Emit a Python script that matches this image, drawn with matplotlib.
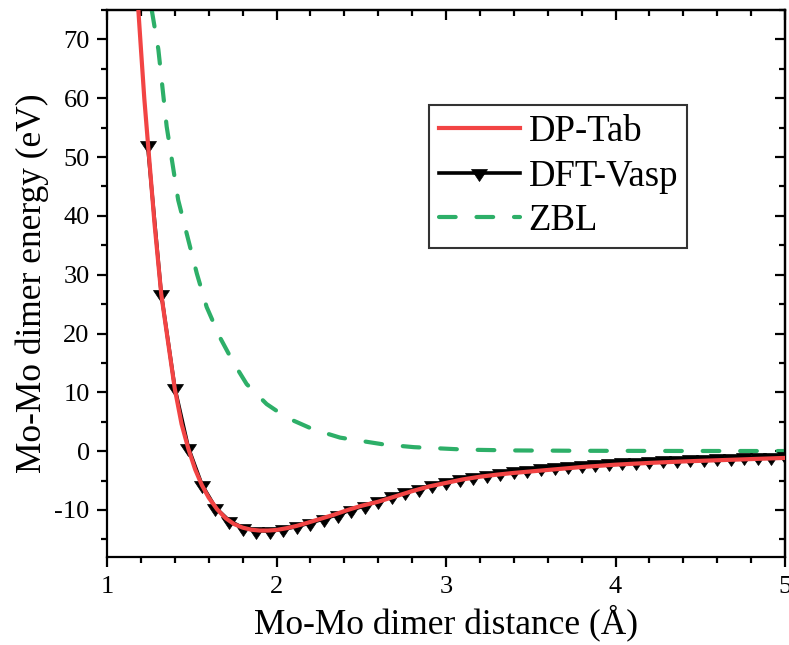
import matplotlib
matplotlib.use("Agg")
import matplotlib.pyplot as plt
from matplotlib.path import Path
from matplotlib.ticker import MultipleLocator

plt.rcParams['font.family'] = 'serif'
plt.rcParams['font.serif'] = ['Liberation Serif', 'DejaVu Serif']
plt.rcParams['axes.unicode_minus'] = False

# DP-Tab (red curve)
dp_x = [1.185, 1.20, 1.22, 1.244, 1.28, 1.32, 1.36, 1.40, 1.44, 1.48, 1.52, 1.56,
        1.60, 1.65, 1.70, 1.75, 1.80, 1.85, 1.90, 1.95, 2.00, 2.06, 2.12, 2.18,
        2.26, 2.34, 2.42, 2.50, 2.60, 2.70, 2.80, 2.90, 3.00, 3.10, 3.20, 3.30,
        3.40, 3.50, 3.60, 3.70, 3.80, 4.00, 4.20, 4.40, 4.60, 4.80, 5.00]
dp_y = [75.0, 68.5, 60.0, 51.5, 38.8, 26.7, 18.6, 10.6, 4.6, 0.4, -3.1, -5.8,
        -7.9, -9.9, -11.4, -12.4, -13.0, -13.35, -13.5, -13.5, -13.4, -13.1, -12.7, -12.2,
        -11.5, -10.8, -10.0, -9.3, -8.6, -7.7, -6.8, -6.0, -5.4, -4.8, -4.35, -4.0,
        -3.7, -3.45, -3.2, -2.95, -2.7, -2.3, -2.0, -1.75, -1.55, -1.35, -1.15]

# DFT-Vasp (black line with triangles)
dft_x = [1.24, 1.32, 1.40, 1.48, 1.56, 1.64, 1.72, 1.80, 1.88, 1.96, 2.04, 2.12,
         2.20, 2.28, 2.36, 2.44, 2.52, 2.60, 2.68, 2.76, 2.84, 2.92, 3.00, 3.08,
         3.16, 3.24, 3.32, 3.40, 3.48, 3.56, 3.64, 3.72, 3.80, 3.88, 3.96, 4.04,
         4.12, 4.20, 4.28, 4.36, 4.44, 4.52, 4.60, 4.68, 4.76, 4.84, 4.92, 5.00]
dft_y = [52.0, 26.8, 10.8, 0.6, -5.7, -9.6, -11.8, -13.0, -13.5, -13.6, -13.3, -12.8,
         -12.2, -11.5, -10.8, -10.0, -9.3, -8.4, -7.7, -7.0, -6.4, -5.8, -5.2, -4.75,
         -4.35, -4.0, -3.7, -3.4, -3.15, -2.95, -2.75, -2.55, -2.35, -2.2, -2.05, -1.9,
         -1.78, -1.66, -1.55, -1.45, -1.36, -1.28, -1.2, -1.13, -1.07, -1.01, -0.96, -0.9]

# ZBL (green dashed)
zbl_x = [1.264, 1.303, 1.352, 1.42, 1.53, 1.588, 1.667, 1.745, 1.824, 1.942,
         2.06, 2.217, 2.375, 2.63, 2.81, 3.12, 3.40, 3.80, 4.40, 5.00]
zbl_y = [75.0, 68.3, 55.2, 42.7, 30.2, 24.5, 19.3, 15.1, 11.4, 8.0,
         5.7, 3.7, 2.3, 1.15, 0.68, 0.25, 0.12, 0.06, 0.03, 0.02]

# down triangle centred on its centroid (Origin style)
tri = Path([(-0.667, 0.333), (0.667, 0.333), (0.0, -0.667), (-0.667, 0.333)],
           [Path.MOVETO, Path.LINETO, Path.LINETO, Path.CLOSEPOLY])

fig = plt.figure(figsize=(7.89, 6.45), dpi=100)
ax = fig.add_axes([0.1356, 0.1364, 0.8594, 0.8481])

ax.plot(dft_x, dft_y, color='black', linewidth=2.6, marker=tri, markersize=11.5,
        markerfacecolor='black', markeredgecolor='black', markeredgewidth=0.5,
        label='DFT-Vasp', zorder=2)
ax.plot(dp_x, dp_y, color='#F24444', linewidth=3, label='DP-Tab', zorder=3)
ax.plot(zbl_x, zbl_y, color='#2DAF68', linewidth=3, dashes=(4, 5),
        dash_capstyle='round', label='ZBL', zorder=1)

ax.set_xlim(1, 5)
ax.set_ylim(-18, 75)
ax.xaxis.set_major_locator(MultipleLocator(1))
ax.xaxis.set_minor_locator(MultipleLocator(0.2))
ax.yaxis.set_major_locator(MultipleLocator(10))
ax.yaxis.set_minor_locator(MultipleLocator(5))
ax.tick_params(which='both', direction='out', width=1.6, labelsize=19, pad=5)
ax.tick_params(which='major', length=7.5)
ax.tick_params(which='minor', length=4.5)
ax.tick_params(axis='x', pad=6)

for s in ax.spines.values():
    s.set_linewidth(1.6)

# top and right axes with inward ticks
secx = ax.secondary_xaxis('top')
secx.xaxis.set_major_locator(MultipleLocator(1))
secx.xaxis.set_minor_locator(MultipleLocator(0.2))
secx.tick_params(which='both', direction='in', width=1.6, labeltop=False)
secx.tick_params(which='major', length=7.5)
secx.tick_params(which='minor', length=4.5)
secx.spines['top'].set_linewidth(1.6)
secy = ax.secondary_yaxis('right')
secy.yaxis.set_major_locator(MultipleLocator(10))
secy.yaxis.set_minor_locator(MultipleLocator(5))
secy.tick_params(which='both', direction='in', width=1.6, labelright=False)
secy.tick_params(which='major', length=7.5)
secy.tick_params(which='minor', length=4.5)
secy.spines['right'].set_linewidth(1.6)

ax.set_xlabel('Mo-Mo dimer distance (Å)', fontsize=25.5, labelpad=5)
ax.set_ylabel('Mo-Mo dimer energy (eV)', fontsize=25.5, labelpad=4)

h, l = ax.get_legend_handles_labels()
order = [1, 0, 2]
leg = ax.legend([h[i] for i in order], [l[i] for i in order],
                loc='upper left', bbox_to_anchor=(0.4754, 0.8263), borderaxespad=0,
                fontsize=26.5, frameon=True, fancybox=False, edgecolor='black',
                handlelength=2.2, handletextpad=0.25, labelspacing=0.28,
                borderpad=0.25, numpoints=1)
leg.get_frame().set_linewidth(1.5)

fig.savefig('out.png', dpi=100)
